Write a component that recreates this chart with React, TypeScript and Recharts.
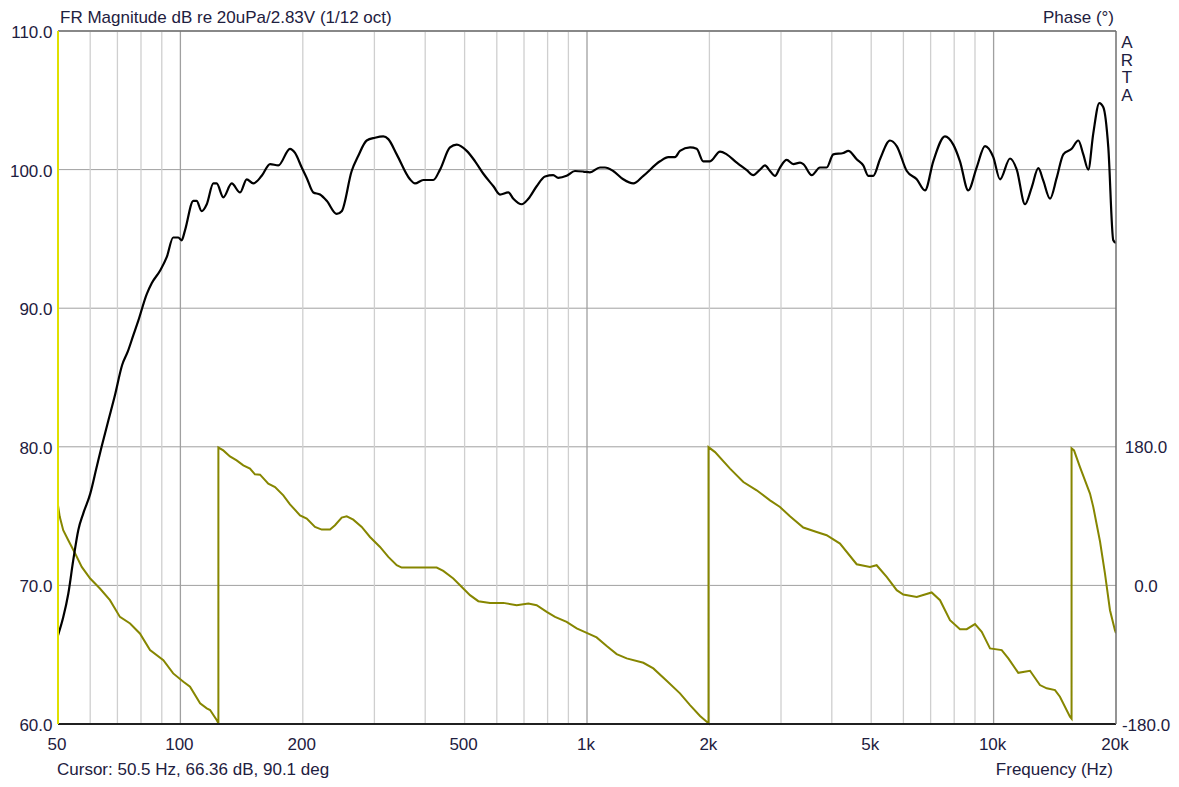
import { LineChart, Line, XAxis, YAxis, CartesianGrid, ReferenceLine } from 'recharts';

const FONT = '"Liberation Sans", Arial, sans-serif';
const TEXT = '#1e2040';

// FR magnitude (1/12 oct smoothed), dB re 20uPa/2.83V
const magFreq = [
  50, 51.5, 53, 54.5, 56.1, 57.7, 60, 62.2, 64, 66.5, 69, 71.9, 74.3, 76.5, 78.8, 82.6, 85, 89.1, 92.6, 96,
  98.8, 100.7, 102.6, 107.6, 109.6, 112.8, 116.1, 120.5, 122.8, 127.5, 133.7, 140.2, 145.6, 151.1, 158.5, 166.2, 174.1, 186, 191.4, 198.8,
  204.5, 212.3, 220.5, 229, 242.3, 249.3, 263.8, 273.9, 287.2, 301, 315.5, 324.6, 340.4, 366.9, 377.6, 395.7, 418.8, 435, 460.3, 478.2,
  506, 530.5, 556, 588.6, 611, 640.4, 659, 691, 717.5, 752, 788.5, 826, 849.5, 891, 934, 979, 1017, 1076, 1107, 1160,
  1228, 1300, 1376, 1512, 1585, 1646, 1693, 1792, 1861, 1932, 2007, 2124, 2206, 2335, 2471, 2564, 2664, 2740, 2819, 2900,
  2983, 3098, 3216, 3341, 3404, 3570, 3741, 3885, 4035, 4271, 4392, 4605, 4780, 4918, 5060, 5255, 5561, 5777, 6116, 6471,
  6781, 7106, 7593, 7959, 8266, 8664, 9084, 9525, 9983, 10370, 10975, 11400, 11947, 12405, 12882, 13250, 13764, 14294, 14842, 15561,
  16157, 16619, 17094, 17583, 18197, 18615, 19147, 19694, 20000,
];
const magDb = [
  66.4, 67.7, 69.4, 71.8, 74.0, 75.2, 76.6, 78.5, 80.0, 81.9, 83.7, 85.9, 86.9, 88.0, 89.1, 91.0, 91.8, 92.7, 93.7, 95.1,
  95.1, 94.9, 95.6, 97.75, 97.75, 97.0, 97.5, 99.0, 99.0, 98.0, 99.0, 98.35, 99.3, 99.0, 99.55, 100.4, 100.3, 101.5, 101.2, 100.15,
  99.4, 98.35, 98.2, 97.75, 96.8, 97.0, 99.9, 101.0, 102.1, 102.3, 102.4, 102.2, 101.1, 99.3, 99.0, 99.25, 99.25, 100.0, 101.6, 101.8,
  101.35, 100.6, 99.7, 98.8, 98.2, 98.35, 97.9, 97.5, 97.9, 98.8, 99.5, 99.6, 99.4, 99.55, 99.9, 99.86, 99.8, 100.15, 100.15, 99.9,
  99.3, 99.0, 99.55, 100.6, 100.9, 100.9, 101.35, 101.6, 101.5, 100.6, 100.6, 101.3, 101.1, 100.5, 99.96, 99.6, 100.0, 100.3, 99.9, 99.55,
  100.15, 100.7, 100.4, 100.5, 100.4, 99.6, 100.15, 100.15, 101.1, 101.2, 101.35, 100.75, 100.3, 99.55, 99.55, 100.75, 102.1, 101.7, 99.9, 99.3,
  98.5, 100.6, 102.4, 101.8, 100.6, 98.5, 100.15, 101.7, 100.9, 99.3, 100.8, 100.0, 97.5, 98.7, 100.1, 99.2, 97.9, 99.4, 101.1, 101.5,
  102.1, 101.1, 100.0, 102.6, 104.8, 104.5, 101.6, 94.9, 94.7,
];

// phase, wrapped to +/-180 deg
const phaseFreq = [
  50, 50.5, 51.5, 53, 55.1, 57.2, 60, 63.4, 67.1, 71, 75.2, 79.5, 84.2, 90.8, 96, 101.7, 105.6, 111.8, 116.1, 118.3,
  122.8, 124, 124, 127.5, 132.4, 137.5, 142.8, 148.3, 152.5, 157, 164.5, 170.9, 179.1, 186, 196.9, 204.5, 214.3, 222.6, 233.4, 240,
  249.3, 256.5, 266.2, 279.2, 292.6, 309.7, 324.6, 340.4, 350.1, 373.9, 426.9, 443.1, 469, 496.3, 515.5, 540.4, 577.4, 622.4, 671.5, 717.5,
  752, 796, 834.4, 891, 943.3, 998.4, 1056, 1118, 1183, 1252, 1376, 1456, 1570, 1693, 1792, 1897, 1970, 1990, 1990, 2065,
  2248, 2424, 2614, 2819, 2983, 3156, 3404, 3671, 3885, 4190, 4605, 4966, 5156, 5458, 5777, 5995, 6471, 7041, 7383, 7812,
  8266, 8588, 9000, 9350, 9800, 10470, 10870, 11500, 12290, 13000, 13510, 14160, 14560, 15410, 15550, 15550, 15770, 16310, 17260, 17583,
  18270, 18790, 19330, 19880, 20000,
];
const phaseDeg = [
  104, 89, 71.6, 58.6, 41.4, 24.0, 8.9, -4.0, -19.2, -40.9, -49.4, -62.4, -84.0, -97.0, -114.3, -125.1, -131.6, -153.2, -159.6, -161.8,
  -174.8, -179, 179, 175.3, 167.5, 162.4, 155.9, 151.6, 144.2, 143.8, 132.1, 127.7, 117.0, 105.3, 91.0, 86.7, 75.9, 72.5, 72.5, 78.1,
  88.0, 89.7, 85.4, 75.9, 62.9, 49.9, 37.0, 26.2, 23.2, 23.2, 23.2, 18.8, 8.9, -4.0, -12.7, -20.5, -22.7, -22.7, -25.7, -23.5,
  -25.7, -34.4, -40.9, -47.3, -55.9, -61.6, -67.6, -78.8, -89.2, -94.8, -100.5, -107.8, -123.8, -140.2, -155.4, -169.6, -177, -179, 179.6, 173.1,
  151.6, 134.2, 123.5, 110.5, 101.8, 89.7, 75.1, 69.4, 65.1, 54.3, 27.5, 24.0, 26.2, 11.0, -6.2, -11.8, -14.9, -9.2, -19.2, -45.1,
  -56.8, -56.8, -50.3, -60.3, -81.8, -84.0, -94.8, -113.5, -110.9, -129.4, -133.7, -135.9, -144.6, -170.5, -173, 178, 175.3, 153.7, 119.2, 102,
  57, 15.4, -32.2, -58.1, -62,
];

const freqTicks = [50, 100, 200, 500, 1000, 2000, 5000, 10000, 20000];
const dbTicks = [60, 70, 80, 90, 100, 110];
const phaseTicks = [-180, 0, 180];
const minorGrid = [
  60, 70, 80, 90, 200, 300, 400, 500, 600, 700, 800, 900,
  2000, 3000, 4000, 5000, 6000, 7000, 8000, 9000,
];
const decadeGrid = [100, 1000, 10000];

const magData = magFreq.map((f, i) => ({ f, db: magDb[i] }));
const phaseData = phaseFreq.map((f, i) => ({ f, ph: phaseDeg[i] }));

const fmtFreq = (v: number) => (v >= 1000 ? `${v / 1000}k` : `${v}`);

const FreqTick = ({ x, y, payload }: any) => (
  <text x={x - 1} y={y + 26} textAnchor="middle" fontSize={17} fontFamily={FONT} fill={TEXT}>
    {fmtFreq(payload.value)}
  </text>
);

const DbTick = ({ x, y, payload }: any) => (
  <text x={x - 5.5} y={y + 7} textAnchor="end" fontSize={17} fontFamily={FONT} fill={TEXT}>
    {payload.value.toFixed(1)}
  </text>
);

const PhaseTick = ({ x, y, payload }: any) => (
  <text x={x + 30} y={y + 6.5} textAnchor="middle" fontSize={17} fontFamily={FONT} fill={TEXT}>
    {payload.value.toFixed(1)}
  </text>
);

export default function App() {
  return (
    <div style={{ position: 'absolute', left: 0, top: 0, width: 1179, height: 787, background: '#fff' }}>
      <LineChart width={1179} height={787} margin={{ top: 31, right: 0, bottom: 0, left: 0 }}>
        <CartesianGrid yAxisId="db" vertical={false} stroke="#a0a0a0" strokeWidth={1} />
        {minorGrid.map((f) => (
          <ReferenceLine key={f} x={f} yAxisId="db" stroke="#cfcfcf" strokeWidth={1.3} />
        ))}
        {decadeGrid.map((f) => (
          <ReferenceLine key={f} x={f} yAxisId="db" stroke="#a0a0a0" strokeWidth={1.3} />
        ))}
        <ReferenceLine y={110} yAxisId="db" stroke="#707070" strokeWidth={1.5} />
        <XAxis
          dataKey="f"
          type="number"
          scale="log"
          domain={[50, 20000]}
          allowDataOverflow
          ticks={freqTicks}
          height={63}
          tickSize={0}
          tickMargin={0}
          tickLine={false}
          axisLine={{ stroke: '#202020', strokeWidth: 2 }}
          tick={<FreqTick />}
        />
        <YAxis
          yAxisId="db"
          domain={[60, 110]}
          ticks={dbTicks}
          width={58}
          tickSize={0}
          tickMargin={0}
          tickLine={false}
          axisLine={{ stroke: '#e0e000', strokeWidth: 2 }}
          tick={<DbTick />}
        />
        <YAxis
          yAxisId="ph"
          orientation="right"
          domain={[-180, 720]}
          ticks={phaseTicks}
          width={63}
          tickSize={0}
          tickMargin={0}
          tickLine={false}
          axisLine={{ stroke: '#707070', strokeWidth: 1.5 }}
          tick={<PhaseTick />}
        />
        <Line
          yAxisId="ph"
          data={phaseData}
          dataKey="ph"
          type="linear"
          stroke="#868600"
          strokeWidth={2}
          dot={false}
          activeDot={false}
          isAnimationActive={false}
        />
        <Line
          yAxisId="db"
          data={magData}
          dataKey="db"
          type="monotone"
          stroke="#000000"
          strokeWidth={2.2}
          dot={false}
          activeDot={false}
          isAnimationActive={false}
        />
      </LineChart>
      <svg
        width={1179}
        height={787}
        style={{ position: 'absolute', left: 0, top: 0, pointerEvents: 'none' }}
        fontFamily={FONT}
        fontSize={17}
        fill={TEXT}
      >
        <text x={60} y={23}>FR Magnitude dB re 20uPa/2.83V (1/12 oct)</text>
        <text x={1114} y={23} textAnchor="end">Phase (°)</text>
        {['A', 'R', 'T', 'A'].map((ch, i) => (
          <text key={i} x={1127} y={48 + i * 17.7} textAnchor="middle">{ch}</text>
        ))}
        <text x={57} y={775}>Cursor: 50.5 Hz, 66.36 dB, 90.1 deg</text>
        <text x={1113} y={775} textAnchor="end">Frequency (Hz)</text>
      </svg>
    </div>
  );
}
